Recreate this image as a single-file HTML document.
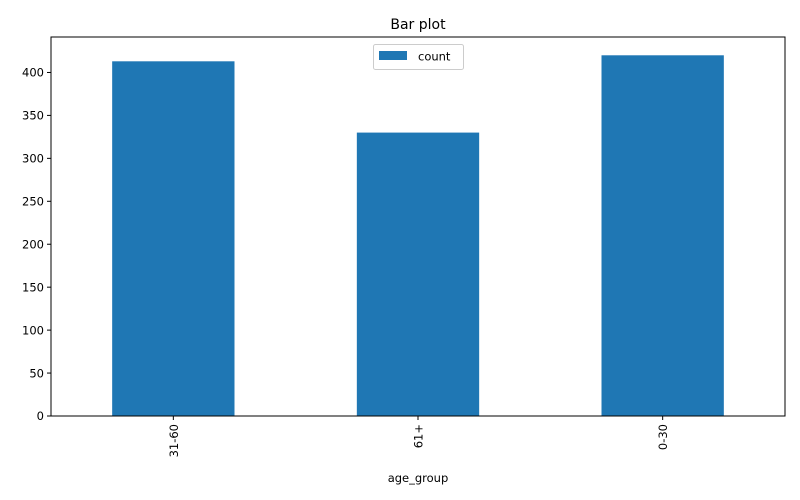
<!DOCTYPE html>
<html><head><meta charset="utf-8"><style>
html,body{margin:0;padding:0;background:#fff;}
svg{display:block;font-family:"DejaVu Sans","Liberation Sans",sans-serif;}
</style></head><body>
<svg id="chart" width="800" height="500" viewBox="0 0 800 500" xmlns="http://www.w3.org/2000/svg">
<rect width="800" height="500" fill="#fff"/>
<text x="418" y="29" font-size="14" text-anchor="middle" fill="#000">Bar plot</text>
<g id="bars"></g>
<g id="ticks"></g>
<rect x="51" y="37" width="734" height="379" fill="none" stroke="#000" stroke-width="1"/>
<text x="418" y="482" font-size="11.5" text-anchor="middle" fill="#000">age_group</text>
<g>
<rect x="373.5" y="44.5" width="90" height="25" rx="2" fill="#fff" fill-opacity="0.8" stroke="#ccc"/>
<rect x="379" y="51" width="28" height="9" fill="#1f77b4"/>
<text x="418" y="60.5" font-size="11.5" fill="#000">count</text>
</g>
</svg>
<script>
const categories = ["31-60", "61+", "0-30"];
const counts = [413, 330, 420];
const yTicks = [0, 50, 100, 150, 200, 250, 300, 350, 400];

const L = 51, R = 785, T = 37, B = 416, yMax = 441.3;
const ns = "http://www.w3.org/2000/svg";
function xScale(i){ return L + (i + 0.5) * (R - L) / categories.length; }
function yScale(v){ return B - v * (B - T) / yMax; }
const bw = 0.5 * (R - L) / categories.length;

const bars = document.getElementById('bars');
const ticks = document.getElementById('ticks');
categories.forEach((c, i) => {
  const r = document.createElementNS(ns, 'rect');
  
  
  r.setAttribute('x', xScale(i) - bw / 2);
  r.setAttribute('y', yScale(counts[i]));
  r.setAttribute('width', bw);
  r.setAttribute('height', B - yScale(counts[i]));
  r.setAttribute('fill', '#1f77b4');
  bars.appendChild(r);
  const t = document.createElementNS(ns, 'line');
  
  
  t.setAttribute('x1', xScale(i)); t.setAttribute('x2', xScale(i));
  t.setAttribute('y1', B); t.setAttribute('y2', B + 4);
  t.setAttribute('stroke', '#000');
  ticks.appendChild(t);
  const lb = document.createElementNS(ns, 'text');
  
  
  const x = xScale(i) + 4.5, y = B + 8;
  lb.setAttribute('x', x); lb.setAttribute('y', y);
  lb.setAttribute('transform', 'rotate(-90 ' + x + ' ' + y + ')');
  lb.setAttribute('text-anchor', 'end');
  lb.setAttribute('font-size', '11.5');
  lb.textContent = c;
  ticks.appendChild(lb);
});
yTicks.forEach(v => {
  const t = document.createElementNS(ns, 'line');
  
  
  t.setAttribute('x1', L - 4); t.setAttribute('x2', L);
  t.setAttribute('y1', yScale(v)); t.setAttribute('y2', yScale(v));
  t.setAttribute('stroke', '#000');
  ticks.appendChild(t);
  const lb = document.createElementNS(ns, 'text');
  
  
  lb.setAttribute('x', L - 7); lb.setAttribute('y', yScale(v) + 4.2);
  lb.setAttribute('text-anchor', 'end');
  lb.setAttribute('font-size', '11.5');
  lb.textContent = v;
  ticks.appendChild(lb);
});
</script>
</body></html>
